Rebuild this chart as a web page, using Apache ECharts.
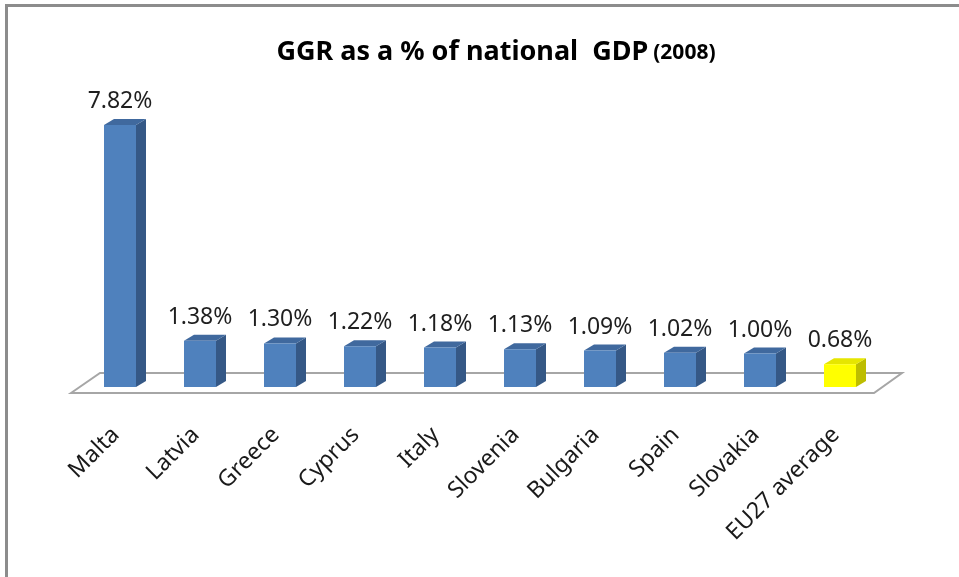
<!DOCTYPE html>
<html>
<head>
<meta charset="utf-8">
<script src="https://cdn.jsdelivr.net/npm/echarts@6/dist/echarts.min.js"></script>
<style>
  html, body { margin: 0; padding: 0; background: #fff; }
  #main { width: 959px; height: 577px; }
</style>
</head>
<body>
<div id="main"></div>
<script>
// data
var countries = ['Malta', 'Latvia', 'Greece', 'Cyprus', 'Italy', 'Slovenia', 'Bulgaria', 'Spain', 'Slovakia', 'EU27 average']
var ggrShare = [7.82, 1.38, 1.30, 1.22, 1.18, 1.13, 1.09, 1.02, 1.00, 0.68]
var highlightIndex = 9 // EU27 average is yellow

var fontFam = ['Noto Sans', 'Open Sans', 'sans-serif']

var chart = echarts.init(document.getElementById('main'))

// 3d-ish column: front, side, top faces
function renderBar(params, api) {
  var idx = api.value(0)
  var val = api.value(1)
  var top = api.coord([idx, val])
  var base = api.coord([idx, 0])
  var band = api.size([1, 0])[0]
  var w = band * 0.4
  var dx = 10, dy = -6
  var x0 = top[0] - w / 2
  var x1 = top[0] + w / 2
  var yellow = idx === highlightIndex
  var front = yellow ? '#FFFF00' : '#4F81BD'
  var side = yellow ? '#BDBD00' : '#355886'
  var cap = yellow ? '#E6E600' : '#40699E'
  return {
    type: 'group',
    children: [
      { type: 'polygon', shape: { points: [[x1, top[1]], [x1 + dx, top[1] + dy], [x1 + dx, base[1] + dy], [x1, base[1]]] }, style: { fill: side } },
      { type: 'polygon', shape: { points: [[x0, top[1]], [x0 + dx, top[1] + dy], [x1 + dx, top[1] + dy], [x1, top[1]]] }, style: { fill: cap } },
      { type: 'rect', shape: { x: x0, y: top[1], width: w, height: base[1] - top[1] }, style: { fill: front } },
      {
        type: 'text',
        x: top[0],
        y: top[1] - 12,
        style: {
          text: val.toFixed(2) + '%',
          fill: '#1f1f1f',
          font: '23px "Noto Sans", sans-serif',
          align: 'center',
          verticalAlign: 'bottom'
        }
      }
    ]
  }
}

// floor plane under the columns
function renderFloor(params, api) {
  var cs = params.coordSys
  var base = cs.y + cs.height
  var fy = base + 6, by = base - 14
  return {
    type: 'polygon',
    shape: {
      points: [[cs.x - 9, fy], [cs.x + 20, by], [cs.x + cs.width + 22, by], [cs.x + cs.width - 6, fy]]
    },
    style: { fill: '#fff', stroke: '#A6A6A6', lineWidth: 2 }
  }
}

var option = {
  backgroundColor: '#fff',
  animation: false,
  title: {
    text: '{a|GGR as a % of national  GDP} {b|(2008)}',
    left: 491,
    textAlign: 'center',
    top: 27,
    textStyle: {
      rich: {
        a: { fontFamily: fontFam, fontWeight: 'bold', fontSize: 27, color: '#000', verticalAlign: 'bottom', lineHeight: 34 },
        b: { fontFamily: fontFam, fontWeight: 'bold', fontSize: 21, color: '#000', verticalAlign: 'bottom', lineHeight: 28, padding: [0, 0, 2, 0] }
      }
    }
  },
  grid: {
    left: 80,
    right: 79,
    top: 119,
    bottom: 190
  },
  xAxis: {
    type: 'category',
    data: countries,
    axisLine: { show: false },
    axisTick: { show: false },
    axisLabel: {
      rotate: 45,
      margin: 40,
      padding: [0, 6, 0, 0],
      interval: 0,
      color: '#1a1a1a',
      fontSize: 23,
      fontFamily: fontFam
    }
  },
  yAxis: {
    type: 'value',
    min: 0,
    max: 8,
    show: false
  },
  graphic: [
    {
      type: 'rect',
      shape: { x: 6.5, y: 5.5, width: 1000, height: 1000 },
      style: { fill: 'none', stroke: '#8C8C8C', lineWidth: 3 },
      silent: true
    }
  ],
  series: [
    {
      type: 'custom',
      renderItem: renderFloor,
      data: [[0, 0]],
      z: 1,
      silent: true
    },
    {
      type: 'custom',
      renderItem: renderBar,
      data: ggrShare.map(function (v, i) { return [i, v] }),
      encode: { x: 0, y: 1 },
      z: 2
    }
  ]
}

chart.setOption(option)
window.onresize = function () { chart.resize() }
</script>
</body>
</html>
